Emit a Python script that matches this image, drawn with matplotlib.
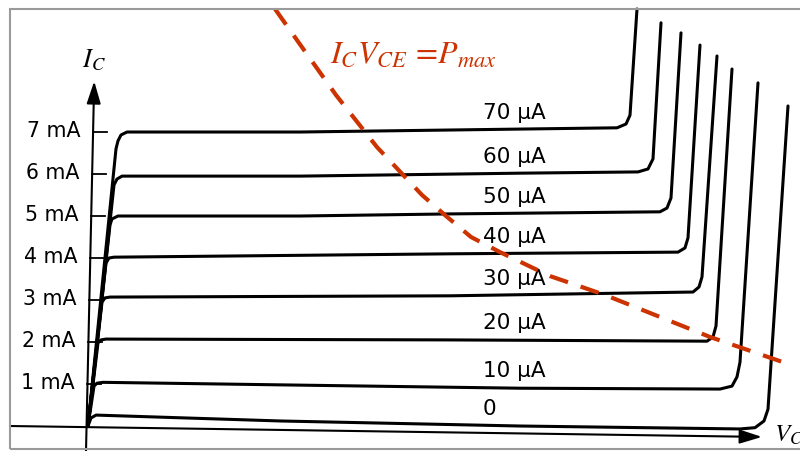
import matplotlib.pyplot as plt
from matplotlib.patches import Rectangle
import numpy as np

plt.rcParams['mathtext.fontset'] = 'stix'

# base current of each curve (uA)
ib_ua = [70, 60, 50, 40, 30, 20, 10, 0]

# V_CE (V) and I_C (mA):
# origin -> knee -> flat part -> breakdown
vce_70 = [0, 1.40, 1.50, 1.65, 1.95, 10.6, 21.6, 26.45, 26.9, 27.1, 27.45]
ic_70 = [0, 6.60, 6.79, 6.93, 7.00, 7.00, 7.07, 7.10, 7.19, 7.40, 9.93]

vce_60 = [0, 1.30, 1.45, 1.70, 10.6, 21.6, 27.5, 28.0, 28.25, 28.65]
ic_60 = [0, 5.74, 5.88, 5.95, 5.95, 6.02, 6.05, 6.12, 6.36, 9.60]

vce_50 = [0, 1.10, 1.20, 1.50, 10.6, 18.1, 28.6, 28.95, 29.15, 29.65]
ic_50 = [0, 4.79, 4.93, 5.00, 5.00, 5.05, 5.10, 5.19, 5.43, 9.36]

vce_40 = [0, 0.90, 1.05, 1.30, 18.1, 29.5, 29.85, 30.0, 30.6]
ic_40 = [0, 3.88, 4.00, 4.02, 4.10, 4.14, 4.24, 4.48, 9.07]

vce_30 = [0, 0.70, 0.85, 1.10, 18.1, 30.25, 30.55, 30.7, 31.45]
ic_30 = [0, 2.95, 3.05, 3.07, 3.10, 3.19, 3.31, 3.55, 8.81]

vce_20 = [0, 0.50, 0.65, 0.90, 18.1, 30.95, 31.25, 31.4, 32.2]
ic_20 = [0, 1.98, 2.05, 2.07, 2.05, 2.02, 2.12, 2.38, 8.50]

vce_10 = [0, 0.30, 0.45, 0.75, 9.6, 21.6, 31.6, 32.2, 32.45, 32.6, 33.5]
ic_10 = [0, 0.95, 1.02, 1.04, 0.98, 0.90, 0.88, 0.95, 1.17, 1.52, 8.17]

vce_0 = [0, 0.15, 0.40, 9.6, 21.6, 32.6, 33.35, 33.8, 34.0, 35.0]
ic_0 = [0, 0.19, 0.26, 0.12, 0.0, -0.07, -0.04, 0.12, 0.40, 7.62]

# maximum power curve I_C * V_CE = P_max (as drawn)
pmax_vce = [9.35, 10.55, 12.4, 14.45, 16.7, 17.95, 19.15, 20.6, 23.1, 25.85, 31.1, 34.75]
pmax_ic = [9.93, 9.12, 7.88, 6.64, 5.5, 4.98, 4.5, 4.14, 3.57, 3.12, 2.12, 1.52]

# I_C axis ticks (mA)
ic_ticks = [1, 2, 3, 4, 5, 6, 7]

# axis lines as drawn in the (slightly tilted) scan
x_axis_v = [-3.9, 33.7]
x_axis_i = [0.0, -0.26]
y_axis_v = [-0.1, 0.31]
y_axis_i = [-0.6, 8.21]

curvas = {
    70: (vce_70, ic_70), 60: (vce_60, ic_60), 50: (vce_50, ic_50),
    40: (vce_40, ic_40), 30: (vce_30, ic_30), 20: (vce_20, ic_20),
    10: (vce_10, ic_10), 0: (vce_0, ic_0),
}

vermelho = '#CC3300'

fig = plt.figure(figsize=(8, 4.52), dpi=100)
ax = fig.add_axes([0, 0, 1, 1])
ax.set_xlim(-4.4, 35.6)
ax.set_ylim(-0.595, 10.167)
ax.axis('off')

# axes with arrows
seta = dict(arrowstyle='-|>,head_length=0.8,head_width=0.25', lw=1.5,
            color='black', mutation_scale=17, shrinkA=0, shrinkB=0)
ax.annotate('', xy=(x_axis_v[1], x_axis_i[1]), xytext=(x_axis_v[0], x_axis_i[0]),
            arrowprops=seta)
ax.annotate('', xy=(y_axis_v[1], y_axis_i[1]), xytext=(y_axis_v[0], y_axis_i[0]),
            arrowprops=seta)

# ticks and labels along the y axis
for t in ic_ticks:
    v0 = np.interp(t, y_axis_i, y_axis_v)
    ax.plot([v0, v0 + 0.7], [t, t], color='black', lw=1.3)
    ax.text(v0 - 0.65, t + 0.05, f'{t} mA', ha='right', va='center',
            fontsize=14.8, family='DejaVu Sans')

ax.text(-0.3, 8.57, r'$I_C$', fontsize=19, ha='left', va='baseline')
ax.text(34.3, -0.36, r'$V_{CE}$', fontsize=18, ha='left', va='baseline')

# characteristic curves
for ib in ib_ua:
    v, i = curvas[ib]
    ax.plot(v, i, color='black', lw=2.2, solid_joinstyle='round',
            solid_capstyle='round', zorder=3)
    rotulo = '0' if ib == 0 else f'{ib} μA'
    ax.text(19.75, np.interp(19.75, v, i) + 0.42, rotulo, ha='left', va='center',
            fontsize=15.5, family='DejaVu Sans', zorder=4)

# P_max curve
ax.plot(pmax_vce, pmax_ic, color=vermelho, lw=3.0, linestyle=(0, (4.6, 3.2)),
        zorder=5)
ax.text(12.1, 8.67, r'$I_CV_{CE}\,=\!P_{max}$', color=vermelho, fontsize=23,
        ha='left', va='baseline', zorder=5)

# gray frame of the original picture
fig.add_artist(Rectangle((10 / 800, 2 / 452), 1.0, 440 / 452, transform=fig.transFigure,
                         fill=False, ec='#9a9a9a', lw=1.5, zorder=10))

fig.savefig('out.png', dpi=100)
